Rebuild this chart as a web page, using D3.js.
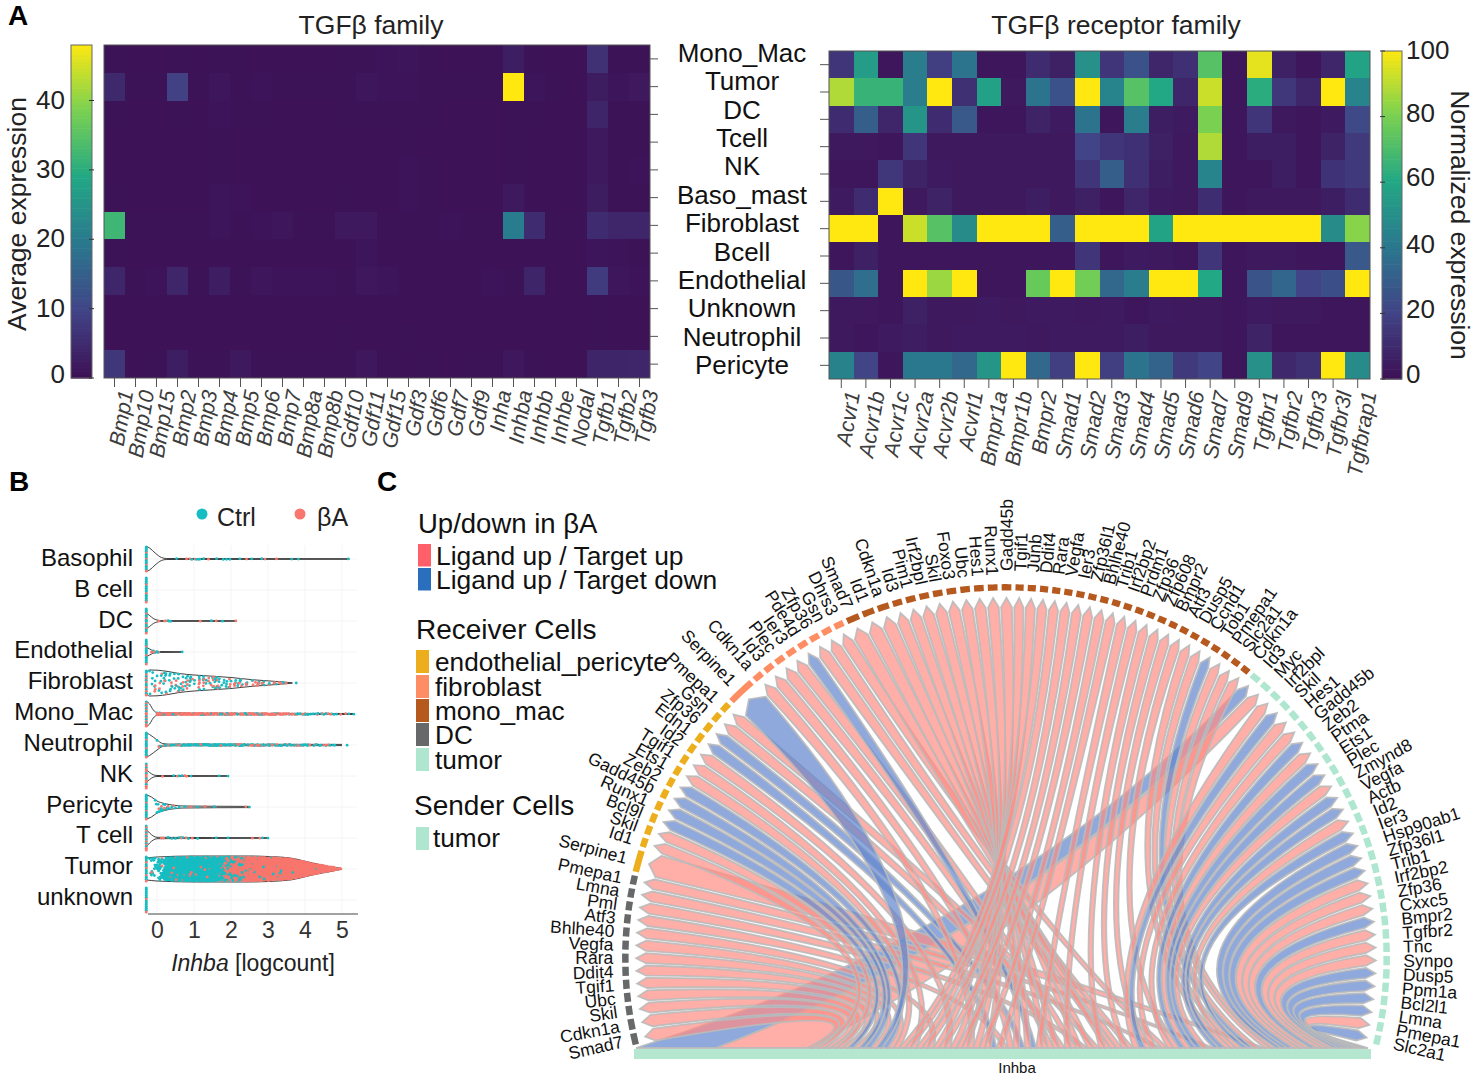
<!DOCTYPE html>
<html><head><meta charset="utf-8">
<script src="https://cdnjs.cloudflare.com/ajax/libs/d3/7.8.5/d3.min.js"></script>
<style>html,body{margin:0;background:#fff}svg{display:block;font-family:"Liberation Sans",Arial,sans-serif}</style>
</head><body><svg id="c" width="1476" height="1081"></svg>
<script>
// ---------- Panel A data ----------
const cellTypes=["Mono_Mac","Tumor","DC","Tcell","NK","Baso_mast","Fibroblast","Bcell","Endothelial","Unknown","Neutrophil","Pericyte"];
const ligands=["Bmp1","Bmp10","Bmp15","Bmp2","Bmp3","Bmp4","Bmp5","Bmp6","Bmp7","Bmp8a","Bmp8b","Gdf10","Gdf11","Gdf15","Gdf3","Gdf6","Gdf7","Gdf9","Inha","Inhba","Inhbb","Inhbe","Nodal","Tgfb1","Tgfb2","Tgfb3"];
const receptors=["Acvr1","Acvr1b","Acvr1c","Acvr2a","Acvr2b","Acvrl1","Bmpr1a","Bmpr1b","Bmpr2","Smad1","Smad2","Smad3","Smad4","Smad5","Smad6","Smad7","Smad9","Tgfbr1","Tgfbr2","Tgfbr3","Tgfbr3l","Tgfbrap1"];
const ligandExpr=[
[.3,.2,.2,.3,.2,.3,.3,.2,.2,.2,.2,.3,.3,.5,.8,.3,.2,.2,.3,2.5,.3,.2,.2,6,.3,.3],
[4.5,.3,.4,9,.3,1,.3,.5,.4,.3,.3,.4,1,.5,.5,.3,.3,.3,.4,48,.8,.3,.2,2,.8,1.5],
[.3,.2,.2,.3,.2,.5,.3,.3,.2,.2,.2,.4,.3,.3,.3,.3,.2,.2,.2,.3,.3,.2,.2,3.5,.3,.3],
[.2,.2,.2,.2,.2,.3,.2,.2,.2,.2,.2,.2,.2,.2,.3,.2,.2,.2,.2,.3,.2,.2,.2,1.5,.3,.3],
[.2,.2,.2,.2,.2,.3,.2,.2,.2,.2,.2,.2,.2,.2,.5,.4,.2,.2,.2,.3,.2,.2,.2,1.5,.3,.5],
[.3,.2,.2,.2,.2,.8,.5,.2,.2,.2,.2,.3,.2,.2,.5,.3,.2,.2,.2,1.5,.2,.2,.2,2,.3,.3],
[32,.3,.3,.4,.3,.8,.4,.5,1,.3,.3,1.5,1.5,.4,.4,.3,.5,.3,.3,20,5,.3,.3,5,4,4],
[.3,.2,.2,.2,.2,.2,.2,.2,.2,.2,.2,.2,.8,.2,.2,.2,.2,.2,.2,.2,.2,.2,.2,.8,.5,.3],
[4,.3,.6,4,.3,2.5,.4,1,.6,.5,.5,.4,1.2,.8,.2,.2,.2,.2,.6,.4,3.5,.2,.2,8,1,.6],
[.2,.2,.2,.2,.2,.2,.2,.2,.2,.2,.2,.2,.2,.2,.2,.2,.2,.2,.2,.2,.2,.2,.2,.3,.2,.2],
[.2,.2,.2,.2,.2,.2,.2,.2,.2,.2,.2,.4,.2,.2,.4,.2,.2,.2,.2,.2,.2,.2,.2,.3,.2,.2],
[7,.2,.3,2.5,.3,.3,1.5,.3,.3,.3,.3,.3,1.2,.4,.2,.3,.2,.3,.3,1.2,.3,.2,.2,3.5,3.5,4]];
const receptorExpr=[
[14,55,2,42,18,38,2,2,10,6,50,14,25,8,12,72,2,96,6,2,8,58],
[88,65,65,42,100,12,57,3,38,25,100,45,72,60,8,92,2,62,15,8,100,45],
[10,30,8,52,10,28,2,2,7,4,38,2,42,5,4,80,2,14,3,2,4,22],
[3,3,2,14,3,3,3,3,3,3,20,14,12,6,3,88,2,5,5,2,7,16],
[2,2,15,7,4,3,3,3,3,3,14,30,12,5,3,45,2,2,5,2,13,16],
[4,10,100,3,7,3,3,3,5,3,6,2,8,4,3,11,2,3,3,3,5,10],
[100,100,2,92,72,48,100,100,100,30,100,100,100,58,100,100,100,100,100,100,48,82],
[2,6,2,2,2,2,2,2,2,2,14,2,4,3,2,14,2,3,3,2,2,28],
[27,36,2,100,85,100,2,2,76,100,78,34,42,100,100,60,2,26,33,20,24,100],
[3,3,2,6,3,3,4,3,4,4,3,4,2,4,3,3,2,4,3,3,2,2],
[3,2,4,5,3,4,4,4,3,4,4,4,5,3,3,3,2,7,2,2,2,2],
[44,20,2,40,40,34,52,100,34,18,100,18,38,32,16,20,2,50,9,12,100,48]];
const heatPalette=["#3d1156","#414487","#2a788e","#22a884","#7ad151","#ffe810"];

// ---------- Panel B data (x = logcount; zero column is drawn left of 0) ----------
const violinRows=["Basophil","B cell","DC","Endothelial","Fibroblast","Mono_Mac","Neutrophil","NK","Pericyte","T cell","Tumor","unknown"];
const zeroCtrl=[13,12,11,12,8,7,15,5,13,7,10,12];
const zeroBeta=[4,3,5,3,6,9,3,9,3,8,4,2];
const basophilCtrl=[.53,.94,1.07,1.12,1.16,1.26,1.61,1.79,1.88,1.97,2.24,2.56,2.83,3.64,3.82,5.17];
const basophilBeta=[.8,.89,1.03,1.39,2.42,2.92,3.23];
const dcCtrl=[.3,.37,.32,1.47,1.77];
const dcBeta=[.05,.2,.24,1.17,1.6,2.13];
const endoCtrl=[-.1,-.05,0,.02,.68];
const endoBeta=[-.15,-.08,.05];
const nkCtrl=[.45,.6,.68,.92,1.68,1.92];
const nkBeta=[.15,.55,.75,.8];
const pericyteCtrl=[-.05,-.02,0,.03,.05,.08,.1,.12,.15,.18,.2,.22,.25,.28,.33,.4,.5,.6,.75,1.1,1.55,2.5];
const pericyteBeta=[.05,.12,.2,.3,.45,.9,1.3,2.4];
const tcellCtrl=[.3,.4,.5,.6,.65,.7,.85,1.1,1.6,1.92,2.85,3];
const tcellBeta=[.12,.18,.65,.78,.95,2.58,2.78];
// binned counts, bin width 0.2
const fibroCtrl=[7,8,9,9,7,6,5,6,6,7,6,5,4,3,2,2,1,1,1,1];
const fibroBeta=[3,3,4,4,3,4,4,5,4,4,3,3,3,4,4,3,3,2,1,0];
const monoCtrl=[3,4,2,3,2,2,2,3,4,4,3,2,4,4,1,2,1,2,2,3,4,3,3,2,1,1,1];
const monoBeta=[22,24,20,18,14,14,12,12,8,8,6,8,10,9,10,12,9,6,5,2,2,1,2,2,1,1,0];
const neutroCtrl=[4,3,5,5,10,10,10,12,10,8,6,8,3,5,5,5,4,3,3,3,3,3,2,2,1,1];
const neutroBeta=[2,1,2,2,2,3,3,2,2,4,3,3,3,3,2,3,3,2,2,3,1,1,2,1,0,0];
const tumorCtrl=[14,30,95,150,165,170,175,170,165,135,90,70,55,12,9,8,7,10,7,4,2,2,1,1,1,0];
const tumorBeta=[1,2,5,8,8,12,10,14,12,25,65,85,90,165,175,175,175,165,165,140,115,90,65,40,20,6];
// violin half widths: [logcount, half width]
const basophilShape=[[-.28,12.5],[-.2,11],[-.05,6],[.12,1.5],[.25,.5],[5.2,.3]];
const bcellShape=[[-.28,.3],[-.2,.1]];
const dcShape=[[-.28,7.5],[-.2,5.5],[-.1,2.5],[0,1],[.1,.4],[2.15,.3]];
const endoShape=[[-.28,4.5],[-.2,3],[-.1,1.2],[0,.5],[.68,.3]];
const fibroShape=[[-.28,11],[-.2,13],[0,12.8],[.3,11.5],[.6,9.5],[1,8],[1.5,6.8],[2,5.5],[2.6,3.2],[3.2,1.6],[3.66,.2]];
const monoShape=[[-.28,12.5],[-.2,10],[-.1,4],[0,1.3],[.2,.8],[5.35,.5]];
const neutroShape=[[-.28,12],[-.2,10.5],[0,5],[.15,1.5],[.35,.8],[5,.6]];
const nkShape=[[-.28,6],[-.2,3.5],[-.1,1.2],[0,.5],[1.92,.3]];
const pericyteShape=[[-.28,12],[-.15,10],[0,6],[.2,3.5],[.45,1.8],[.7,1],[2.5,.6]];
const tcellShape=[[-.28,8],[-.2,5],[-.1,2],[0,.7],[3,.3]];
const tumorShape=[[-.28,11],[0,12],[1,13],[2.5,13],[3,12.5],[3.6,11],[4.2,6],[4.6,3],[5,.3]];
const unknownShape=[[-.28,.3],[-.2,.1]];

// ---------- Panel C data (targets listed clockwise from the lower left) ----------
const dcTargets=["Smad7","Cdkn1a","Skil","Ubc","Tgif1","Ddit4","Rara","Vegfa","Bhlhe40","Atf3","Pml","Lmna","Pmepa1"];
const dcDir="uuuuuuuuuuuuu";
const dcWeight=[1.25,1.2,1.01,1.01,1.01,1.01,1.01,1.01,1.01,1.01,1.01,1.01,1.01];
const dcBar=[25.2,27.3,29.3,31.4,34.1,36.8,40.2,44.2,49.7,57.8,64.6,72.7,78.8];
const endoTargets=["Serpine1","Id1","Skil","Bcl9l","Runx1","Gadd45b","Zeb2","Ets1","Tgif1","Id2","Edn1","Zfp36","Gsn","Pmepa1"];
const endoDir="uuuddddu"+"uuddu"+"u";
const endoWeight=[2.4,1.015,1.015,1.015,1.015,1.015,1.015,1.015,1.015,1.015,1.015,1.015,1.015,1.015];
const endoBar=[83,28,32,35.4,37.7,39.9,42.2,44.9,47.6,51,56.4,58.5,63.2,65.9];
const fibroTargets=["Serpine1","Cdkn1a","Id3","Plec","Ier3","Pde4d","Zfp36","Gsn","Dhrs3"];
const fibroDir="duuuuduuu";
const fibroWeight=[3,1.05,1.05,1.05,1.05,1.05,1.05,1.05,1.05];
const fibroBar=[41.5,54.4,57.8,61.2,63.9,60.1,67.3,70,72.7];
const monoTargets=["Smad7","Id1","Cdkn1a","Id3","Pim1","Irf2bpl","Skil","Foxo3","Ubc","Hes1","Runx1","Gadd45b","Tgif1","Junb","Ddit4","Rara","Vegfa","Ier3","Zfp36l1","Bhlhe40","Trib1","Irf2bp2","Prdm1","Zfp36","Zfp608","Bmpr2","Atf3","Dusp5","Ccnd1","Tob1","Pmepa1","Slc2a1","Cdkn1a"];
const monoDir="uuuuuuuuuuuuuuuuuuuuuuuuuuuuuduuu";
const monoWeight=[1.4,1.3,1.25,1.05,1.05,1.05,1.05,1.05,1.05,1.05,1.05,1.05,.88,.88,.88,.88,.88,.88,.88,.88,.88,.88,.88,.88,.88,.88,.88,.88,.88,.88,.88,.88,.88];
const monoBar=[68.7,67,65.5,64,62.5,61,59.5,58,56,54.5,53,51.5,50,48.5,46,47.5,49,50.5,52.5,55,57.5,60.3,63.3,66.3,69.2,71.5,73.5,80,80.7,81.4,82.2,83.2,84];
const tumorTargets=["Id3","Myc","Irf2bpl","Skil","Hes1","Gadd45b","Zeb2","Ptma","Ets1","Plec","Zmynd8","Vegfa","Actb","Id2","Ier3","Hsp90ab1","Zfp36l1","Trib1","Irf2bp2","Zfp36","Cxxc5","Bmpr2","Tgfbr2","Tnc","Synpo","Dusp5","Ppm1a","Bcl2l1","Lmna","Pmepa1","Slc2a1"];
const tumorDir="duuduududduddudddduuuduuuddddud";
const tumorBar=[2,9,70,71,72,73,74,75,76,77,78,79,79.5,80.2,81,84.5,85,85.5,86,86.5,87,87.5,88,88.5,89,90,91,92.5,94,96,98];
const barWideId3=14, barWideMyc=16;

const svg=d3.select("#c");
const ink="#1a1a1a";
const txt=(g,x,y,s,o={})=>{const t=g.append("text").attr("x",x).attr("y",y).attr("fill",o.fill||ink).attr("font-size",o.size||24).attr("text-anchor",o.anchor||"start").text(s);if(o.weight)t.attr("font-weight",o.weight);if(o.rot!=null)t.attr("transform",`rotate(${o.rot} ${x} ${y})`);if(o.style)t.attr("font-style",o.style);return t;};

txt(svg,8,25,"A",{size:28,weight:"bold",fill:"#000"});
txt(svg,9,491,"B",{size:28,weight:"bold",fill:"#000"});
txt(svg,377,491,"C",{size:28,weight:"bold",fill:"#000"});

// ---------- Heatmaps ----------
const heatInterp=d3.piecewise(d3.interpolateRgb,heatPalette);
function heat(matrix,cols,x0,x1,y0,y1,max){
  const g=svg.append("g");
  const xs=d3.scaleBand().domain(cols).range([x0,x1]);
  const ys=d3.scaleBand().domain(cellTypes).range([y0,y1]);
  const col=d3.scaleSequential(heatInterp).domain([0,max]);
  cellTypes.forEach((r,i)=>cols.forEach((c,j)=>{
    g.append("rect").attr("x",xs(c)).attr("y",ys(r)).attr("width",xs.bandwidth()).attr("height",ys.bandwidth()).attr("fill",col(matrix[i][j])).attr("shape-rendering","crispEdges");
  }));
  g.append("rect").attr("x",x0).attr("y",y0).attr("width",x1-x0).attr("height",y1-y0).attr("fill","none").attr("stroke","#555").attr("stroke-width",1);
  const ax=g.append("g").attr("transform",`translate(0,${y1})`).call(d3.axisBottom(xs).tickSize(9).tickPadding(4));
  ax.select(".domain").remove();
  ax.selectAll("line").attr("stroke","#555");
  ax.selectAll("text").attr("font-size",21.5).attr("font-style","italic").attr("fill","#3d3d3d").attr("font-family",'"Liberation Sans",Arial')
    .attr("text-anchor","end").attr("dx","-0.1em").attr("dy","0.35em").attr("transform","translate(-1,8) rotate(-80)");
  return {g,xs,ys};
}
const hmL=heat(ligandExpr,ligands,104,650,45,378,48);
const hmR=heat(receptorExpr,receptors,829,1370,51,379,100);
txt(svg,371,34,"TGFβ family",{size:26.5,anchor:"middle",fill:"#222"});
txt(svg,1116,34,"TGFβ receptor family",{size:26.5,anchor:"middle",fill:"#222"});

cellTypes.forEach(r=>{
  const a=hmL.ys(r)+hmL.ys.bandwidth()/2, b=hmR.ys(r)+hmR.ys.bandwidth()/2;
  svg.append("line").attr("x1",650).attr("x2",658).attr("y1",a).attr("y2",a).attr("stroke","#555");
  svg.append("line").attr("x1",820).attr("x2",829).attr("y1",b).attr("y2",b).attr("stroke","#555");
});
const labelY=d3.scalePoint().domain(cellTypes).range([53,365]);
cellTypes.forEach(r=>txt(svg,742,labelY(r)+9,r,{size:26,anchor:"middle",fill:"#111"}));

function colorbar(x0,x1,y0,y1,max,ticks,labelX,anchor,tickSide,dy){
  const s=d3.scaleLinear().domain([0,max]).range([y1,y0]);
  const col=d3.scaleSequential(heatInterp).domain([0,max]);
  d3.range(0,max,max/100).forEach(v=>{
    svg.append("rect").attr("x",x0).attr("width",x1-x0).attr("y",s(v+max/100)).attr("height",s(0)-s(max/100)+.6).attr("fill",col(v));
  });
  svg.append("rect").attr("x",x0).attr("y",y0).attr("width",x1-x0).attr("height",y1-y0).attr("fill","none").attr("stroke","#666");
  ticks.forEach((t,i)=>{
    const y=s(t);
    svg.append("line").attr("x1",tickSide<0?x0-2:x1-3).attr("x2",tickSide<0?x0+3:x1+2).attr("y1",y).attr("y2",y).attr("stroke","#333");
    txt(svg,labelX,y+9+dy[i],t,{size:26,anchor,fill:"#222"});
  });
}
colorbar(71,92,45,378,48,[0,10,20,30,40],65,"end",1,[-4,-1,-1,-1,-1]);
colorbar(1382,1402,51,379,100,[0,20,40,60,80,100],1406,"start",-1,[-5,-4,-4,-5,-4,-1]);
txt(svg,26,214,"Average expression",{size:26.5,anchor:"middle",rot:-90,fill:"#222"});
txt(svg,1451,225,"Normalized expression",{size:26.5,anchor:"middle",rot:90,fill:"#222"});

// ---------- Panel B ----------
const bx=d3.scaleLinear().domain([0,5]).range([157,342]);
const by=d3.scalePoint().domain(violinRows).range([559,900]);
const byLabel=d3.scalePoint().domain(violinRows).range([558,897]);
const colCtrl="#16bdc2", colBeta="#f8766d";
const gB=svg.append("g");
violinRows.forEach(r=>gB.append("line").attr("x1",bx(-.25)).attr("x2",357).attr("y1",by(r)).attr("y2",by(r)).attr("stroke","#f4f4f4"));
[0,1,2,3,4,5].forEach(v=>gB.append("line").attr("x1",bx(v)).attr("x2",bx(v)).attr("y1",545).attr("y2",914).attr("stroke","#f5f5f5"));
const frac=v=>v-Math.floor(v);
const hwFn=shape=>d3.scaleLinear().domain(shape.map(d=>d[0])).range(shape.map(d=>d[1])).clamp(true);
function binPoints(ctrl,beta,start){
  const pts=[];
  ctrl.forEach((n,b)=>{for(let i=0;i<n;i++)pts.push({v:start+.2*b,span:.2,c:colCtrl});});
  beta.forEach((n,b)=>{for(let i=0;i<n;i++)pts.push({v:start+.2*b,span:.2,c:colBeta});});
  return pts;
}
const listPoints=(ctrl,beta)=>ctrl.map(v=>({v,span:0,c:colCtrl})).concat(beta.map(v=>({v,span:0,c:colBeta})));
const rowPoints=[
 listPoints(basophilCtrl,basophilBeta),[],listPoints(dcCtrl,dcBeta),listPoints(endoCtrl,endoBeta),
 binPoints(fibroCtrl,fibroBeta,-.2),binPoints(monoCtrl,monoBeta,0),binPoints(neutroCtrl,neutroBeta,0),
 listPoints(nkCtrl,nkBeta),listPoints(pericyteCtrl,pericyteBeta),listPoints(tcellCtrl,tcellBeta),
 binPoints(tumorCtrl,tumorBeta,-.2),[]];
const rowShapes=[basophilShape,bcellShape,dcShape,endoShape,fibroShape,monoShape,neutroShape,nkShape,pericyteShape,tcellShape,tumorShape,unknownShape];
violinRows.forEach((r,i)=>{
  const cy=by(r), shape=rowShapes[i], hw=hwFn(shape), dotR=r==="Tumor"?1.45:1.4;
  if(shape[shape.length-1][0]>0){
    const top=d3.line().x(d=>bx(d[0])).y(d=>cy-d[1]).curve(d3.curveMonotoneX);
    const bot=d3.line().x(d=>bx(d[0])).y(d=>cy+d[1]).curve(d3.curveMonotoneX);
    [top,bot].forEach(l=>gB.append("path").attr("d",l(shape)).attr("fill","none").attr("stroke","#2a2a2a").attr("stroke-width",.9));
  }
  const pts=rowPoints[i].map((p,k)=>({...p,k:frac(k*.61803)}));
  pts.sort((a,b)=>a.k-b.k);
  pts.forEach((p,j)=>{
    const v=p.v+frac(j*.7549)*p.span;
    const off=hw(v)*.92*(2*frac(j*.5698)-1);
    gB.append("circle").attr("cx",bx(v)).attr("cy",cy+off).attr("r",dotR).attr("fill",p.c);
  });
  const nc=zeroCtrl[i], nb=zeroBeta[i], n=nc+nb;
  d3.range(n).forEach(j=>{
    const isB=Math.floor((j+1)*nb/n)>Math.floor(j*nb/n);
    gB.append("circle").attr("cx",bx(-.29)).attr("cy",cy-12+24*(n>1?j/(n-1):.5)).attr("r",1.5).attr("fill",isB?colBeta:colCtrl);
  });
  txt(gB,133,byLabel(r)+8,r,{size:24,anchor:"end",fill:"#111"});
});
const xAxB=gB.append("g").attr("transform","translate(0,914)").call(d3.axisBottom(bx).tickValues([0,1,2,3,4,5]).tickFormat(d3.format("d")).tickSize(0).tickPadding(8));
xAxB.select(".domain").remove();
xAxB.selectAll("text").attr("font-size",23).attr("fill","#333").attr("font-family",'"Liberation Sans",Arial');
gB.append("line").attr("x1",148).attr("x2",358).attr("y1",914).attr("y2",914).attr("stroke","#444");
const xl=gB.append("text").attr("x",253).attr("y",971).attr("text-anchor","middle").attr("font-size",23).attr("fill","#222");
xl.append("tspan").attr("font-style","italic").text("Inhba");xl.append("tspan").text(" [logcount]");
gB.append("circle").attr("cx",202).attr("cy",514).attr("r",5.5).attr("fill",colCtrl);
txt(gB,217,526,"Ctrl",{size:25,fill:"#222"});
gB.append("circle").attr("cx",300).attr("cy",514).attr("r",5.5).attr("fill",colBeta);
txt(gB,317,526,"βA",{size:25,fill:"#222"});

// ---------- Panel C ----------
const gC=svg.append("g");
const groups=[
 {cell:"DC",color:"#666869",t:dcTargets,dir:dcDir,w:dcWeight,bar:dcBar},
 {cell:"endothelial_pericyte",color:"#ecae1d",t:endoTargets,dir:endoDir,w:endoWeight,bar:endoBar},
 {cell:"fibroblast",color:"#ff8d63",t:fibroTargets,dir:fibroDir,w:fibroWeight,bar:fibroBar},
 {cell:"mono_mac",color:"#b5591f",t:monoTargets,dir:monoDir,w:monoWeight,bar:monoBar},
 {cell:"tumor",color:"#aee6cf",t:tumorTargets,dir:tumorDir,w:tumorTargets.map(()=>1.035),bar:tumorBar}];
const cx=1006, cy=958, rx=382, ry=372, startA=193.8, endA=-13.8, gap=.62;
const links=[];
groups.forEach(g=>g.t.forEach((name,i)=>links.push({name,color:g.color,up:g.dir[i]==="u",w:g.w[i],bar:g.bar[i]})));
const unit=(startA-endA-gap*links.length)/d3.sum(links,d=>d.w);
let ang=startA;
links.forEach(l=>{l.a0=ang-gap/2;l.a1=l.a0-l.w*unit;l.mid=(l.a0+l.a1)/2;ang-=l.w*unit+gap;});
const rad=d=>d*Math.PI/180;
const P=(a,r)=>[cx+rx*r*Math.cos(rad(a)),cy-ry*r*Math.sin(rad(a))];
const byBar=links.slice().sort((a,b)=>a.bar-b.bar);
byBar.forEach(l=>{l.bw=1;});
const wideA=links.find(l=>l.bar===2), wideB=links.find(l=>l.bar===9);
wideA.bw=barWideId3; wideB.bw=barWideMyc;
const barX=d3.scaleLinear().domain([0,d3.sum(byBar,l=>l.bw)]).range([636,1368]);
let acc=0; byBar.forEach(l=>{l.s0=barX(acc);l.s1=barX(acc+l.bw);acc+=l.bw;});
const barY=1048;
const fmt=p=>p[0].toFixed(1)+","+p[1].toFixed(1);
const centre=[1040,960];
function ctrl(t,s){
  const m=[(t[0]+s[0])/2,(t[1]+s[1])/2], d=Math.hypot(t[0]-s[0],t[1]-s[1]), k=.28+.4*Math.min(1,d/220);
  return [m[0]+(centre[0]-m[0])*k,m[1]+(centre[1]-m[1])*k];
}
const ribbonOrder=[wideA,wideB].concat(links.filter(l=>l!==wideA&&l!==wideB));
ribbonOrder.forEach(l=>{
  const tip=P(l.mid,.968), A=P(l.a0+.12,.943), B=P(l.a1-.12,.943);
  const sA=[l.s0,barY], sB=[l.s1,barY];
  const cA=ctrl(A,sA), cB=ctrl(B,sB);
  const d=`M${fmt(sA)}Q${fmt(cA)} ${fmt(A)}L${fmt(tip)}L${fmt(B)}Q${fmt(cB)} ${fmt(sB)}Z`;
  gC.append("path").attr("d",d).attr("fill",l.up?"#ff8b83":"#5f84ce").attr("fill-opacity",.7).attr("stroke","#bababa").attr("stroke-width",1.8).attr("stroke-opacity",.9);
});
const arc=(a0,a1,r0,r1)=>{
  const pts=[];d3.range(0,1.001,.25).forEach(f=>pts.push(P(a0+(a1-a0)*f,r1)));
  d3.range(1,-.001,-.25).forEach(f=>pts.push(P(a0+(a1-a0)*f,r0)));
  return "M"+pts.map(fmt).join("L")+"Z";
};
links.forEach(l=>{
  gC.append("path").attr("d",arc(l.a0,l.a1,.988,1.005)).attr("fill",l.color);
  const a=l.mid, left=a>90, p=P(a,left?1.028:1.04);
  const rot=left?-(a-180):-a;
  gC.append("text").attr("font-size",17.5).attr("fill","#111").attr("text-anchor",left?"end":"start")
    .attr("dominant-baseline","central").attr("transform",`translate(${p[0].toFixed(1)},${p[1].toFixed(1)}) rotate(${rot.toFixed(1)})`).text(l.name);
});
gC.append("rect").attr("x",634).attr("y",1049).attr("width",737).attr("height",10).attr("fill","#b4e6d0");
txt(gC,1017,1073,"Inhba",{size:15,anchor:"middle",fill:"#111"});

// Legends
txt(gC,418,533,"Up/down in βA",{size:27.5,fill:"#111"});
[["Ligand up / Target up","#ff5f68",544],["Ligand up / Target down","#2a6fbd",568]].forEach(d=>{
  gC.append("rect").attr("x",418).attr("y",d[2]).attr("width",13).attr("height",22.5).attr("fill",d[1]);
  txt(gC,436,d[2]+21,d[0],{size:26.4,fill:"#111"});
});
txt(gC,416,639,"Receiver Cells",{size:28,fill:"#111"});
[["endothelial_pericyte","#ecae1d",650],["fibroblast","#ff8d63",675],["mono_mac","#b5591f",699],["DC","#666869",723],["tumor","#aee6cf",748]].forEach(d=>{
  gC.append("rect").attr("x",416).attr("y",d[2]).attr("width",13).attr("height",23).attr("fill",d[1]);
  txt(gC,435,d[2]+21,d[0],{size:26.2,fill:"#111"});
});
txt(gC,414,815,"Sender Cells",{size:28,fill:"#111"});
gC.append("rect").attr("x",416).attr("y",827).attr("width",13).attr("height",23).attr("fill","#aee6cf");
txt(gC,433,847,"tumor",{size:26.2,fill:"#111"});
</script></body></html>
